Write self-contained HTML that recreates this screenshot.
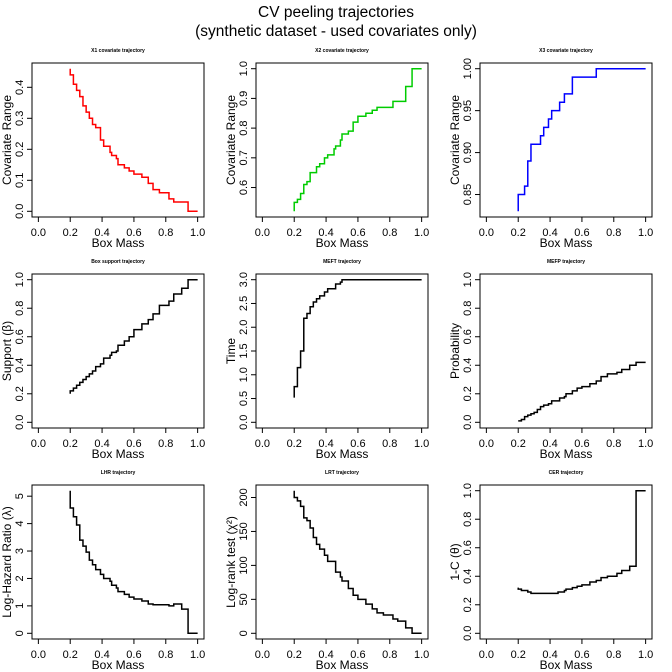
<!DOCTYPE html>
<html><head><meta charset="utf-8"><style>
html,body{margin:0;padding:0;background:#fff;}
svg{display:block;font-family:"Liberation Sans",Arial,sans-serif;}
</style></head><body>
<svg id="chart" width="672" height="672" viewBox="0 0 672 672">
<text x="336" y="17" font-size="15.5" text-anchor="middle">CV peeling trajectories</text>
<text x="336" y="36" font-size="15.5" text-anchor="middle">(synthetic dataset - used covariates only)</text>
</svg>
<script>
const boxMass = [0.2,0.2,0.22,0.24,0.26,0.28,0.30,0.32,0.34,0.36,0.39,0.41,0.45,0.46,0.49,0.50,0.54,0.57,0.60,0.65,0.69,0.72,0.76,0.82,0.85,0.90,0.94,1.00];
const x1Range = [0.46,0.44,0.41,0.39,0.37,0.34,0.32,0.30,0.28,0.27,0.23,0.21,0.19,0.18,0.17,0.15,0.14,0.13,0.12,0.11,0.09,0.07,0.06,0.04,0.03,0.03,0.00,0.00];
const x2Range = [0.52,0.55,0.56,0.58,0.61,0.62,0.65,0.65,0.67,0.68,0.70,0.71,0.73,0.74,0.76,0.78,0.79,0.82,0.84,0.85,0.86,0.87,0.87,0.89,0.89,0.94,1.00,1.00];
const x3Range = [0.83,0.85,0.85,0.86,0.89,0.91,0.91,0.91,0.92,0.93,0.94,0.95,0.95,0.96,0.97,0.97,0.99,0.99,0.99,0.99,1.00,1.00,1.00,1.00,1.00,1.00,1.00,1.00];
const supportVals = [0.20,0.22,0.24,0.26,0.28,0.30,0.32,0.34,0.36,0.39,0.41,0.45,0.47,0.49,0.50,0.54,0.57,0.60,0.65,0.69,0.72,0.76,0.82,0.85,0.90,0.94,1.00,1.00];
const meftVals = [0.52,0.75,1.15,1.50,2.19,2.29,2.43,2.53,2.60,2.66,2.74,2.81,2.81,2.91,2.95,3.00,3.00,3.00,3.00,3.00,3.00,3.00,3.00,3.00,3.00,3.00,3.00,3.00];
const mefpVals = [0.01,0.01,0.02,0.04,0.05,0.06,0.07,0.09,0.11,0.12,0.13,0.15,0.15,0.17,0.18,0.20,0.22,0.24,0.25,0.27,0.29,0.32,0.34,0.35,0.37,0.40,0.42,0.42];
const lhrVals = [5.2,4.57,4.25,3.95,3.40,3.18,2.96,2.67,2.50,2.32,2.15,2.00,1.90,1.75,1.65,1.52,1.42,1.32,1.25,1.18,1.07,1.04,1.04,1.00,1.07,0.88,0.00,0.00];
const lrtVals = [210,200,195,187,170,166,155,141,131,124,115,106,106,90,83,77,66,56,50,43,36,30,27,21,18,8,0,0];
const cerVals = [0.32,0.31,0.30,0.30,0.29,0.28,0.28,0.28,0.28,0.28,0.28,0.28,0.29,0.29,0.30,0.31,0.32,0.33,0.34,0.36,0.37,0.39,0.40,0.42,0.44,0.47,1.00,1.00];
const xTicks = [0,0.2,0.4,0.6,0.8,1.0];
const xTickLabels = ["0.0","0.2","0.4","0.6","0.8","1.0"];

const panels = [
 {name:"x1", title:"X1 covariate trajectory", ylab:"Covariate Range", y:x1Range, ymin:0, ymax:0.46, ticks:[0,0.1,0.2,0.3,0.4], tl:["0.0","0.1","0.2","0.3","0.4"], color:"#ff0000"},
 {name:"x2", title:"X2 covariate trajectory", ylab:"Covariate Range", y:x2Range, ymin:0.52, ymax:1.0, ticks:[0.6,0.7,0.8,0.9,1.0], tl:["0.6","0.7","0.8","0.9","1.0"], color:"#00cc00"},
 {name:"x3", title:"X3 covariate trajectory", ylab:"Covariate Range", y:x3Range, ymin:0.83, ymax:1.0, ticks:[0.85,0.9,0.95,1.0], tl:["0.85","0.90","0.95","1.00"], color:"#0000ff"},
 {name:"support", title:"Box support trajectory", ylab:"Support (β)", y:supportVals, ymin:0, ymax:1, ticks:[0,0.2,0.4,0.6,0.8,1.0], tl:["0.0","0.2","0.4","0.6","0.8","1.0"], color:"#000"},
 {name:"meft", title:"MEFT trajectory", ylab:"Time", y:meftVals, ymin:0, ymax:3, ticks:[0,0.5,1,1.5,2,2.5,3], tl:["0.0","0.5","1.0","1.5","2.0","2.5","3.0"], color:"#000"},
 {name:"mefp", title:"MEFP trajectory", ylab:"Probability", y:mefpVals, ymin:0, ymax:1, ticks:[0,0.2,0.4,0.6,0.8,1.0], tl:["0.0","0.2","0.4","0.6","0.8","1.0"], color:"#000"},
 {name:"lhr", title:"LHR trajectory", ylab:"Log-Hazard Ratio (λ)", y:lhrVals, ymin:0, ymax:5.2, ticks:[0,1,2,3,4,5], tl:["0","1","2","3","4","5"], color:"#000"},
 {name:"lrt", title:"LRT trajectory", ylab:"Log-rank test (χ²)", y:lrtVals, ymin:0, ymax:210, ticks:[0,50,100,150,200], tl:["0","50","100","150","200"], color:"#000"},
 {name:"cer", title:"CER trajectory", ylab:"1-C (θ)", y:cerVals, ymin:0, ymax:1, ticks:[0,0.2,0.4,0.6,0.8,1.0], tl:["0.0","0.2","0.4","0.6","0.8","1.0"], color:"#000"}
];

const svg = document.getElementById('chart');
const NS = "http://www.w3.org/2000/svg";
function mk(tag, attrs, parent){const e=document.createElementNS(NS,tag);for(const k in attrs)e.setAttribute(k,attrs[k]);parent.appendChild(e);return e;}

panels.forEach((p,i)=>{
  const ox = (i%3)*224, oy = Math.floor(i/3)*211;
  const L=ox+32, R=ox+204, T=oy+63, B=oy+217;
  const xs = v => L + (v+0.04)/1.08*(R-L);
  const yr = p.ymax-p.ymin;
  const ys = v => B - ((v-p.ymin)+0.04*yr)/(1.08*yr)*(B-T);
  const g = mk('g',{},svg);
  
  
  const t = mk('text',{x:(L+R)/2,y:oy+52,'font-size':5,'font-weight':'bold','text-anchor':'middle'},g);
  t.textContent=p.title;
  
  
  const box = mk('rect',{x:L,y:T,width:R-L,height:B-T,fill:'none',stroke:'#000','stroke-width':1},g);
  
  
  // x axis
  const xa = mk('g',{},g);
  
  
  mk('line',{x1:xs(xTicks[0]),x2:xs(xTicks[xTicks.length-1]),y1:B,y2:B,stroke:'#000'},xa);
  xTicks.forEach((v,k)=>{
    mk('line',{x1:xs(v),x2:xs(v),y1:B,y2:B+5,stroke:'#000'},xa);
    const tx=mk('text',{x:xs(v),y:B+19,'font-size':11,'text-anchor':'middle'},xa);
    tx.textContent=xTickLabels[k];
    
    
  });
  const xl=mk('text',{x:(L+R)/2,y:B+30,'font-size':12,'text-anchor':'middle'},g);
  xl.textContent='Box Mass';
  
  
  // y axis
  const ya = mk('g',{},g);
  
  
  mk('line',{x1:L,x2:L,y1:ys(p.ticks[0]),y2:ys(p.ticks[p.ticks.length-1]),stroke:'#000'},ya);
  p.ticks.forEach((v,k)=>{
    mk('line',{x1:L-5,x2:L,y1:ys(v),y2:ys(v),stroke:'#000'},ya);
    const ty=mk('text',{x:0,y:0,'font-size':11,'text-anchor':'middle',transform:`translate(${ox+23},${ys(v)}) rotate(-90)`},ya);
    ty.textContent=p.tl[k];
    
    
  });
  const yl=mk('text',{x:0,y:0,'font-size':12,'text-anchor':'middle',transform:`translate(${ox+11},${(T+B)/2}) rotate(-90)`},g);
  yl.textContent=p.ylab;
  
  
  // step line
  let d = `M${xs(boxMass[0])},${ys(p.y[0])}`;
  for(let k=1;k<boxMass.length;k++){ d += ` H${xs(boxMass[k])} V${ys(p.y[k])}`; }
  const path = mk('path',{d:d,fill:'none',stroke:p.color,'stroke-width':1.5},g);
  
  
});
</script>
</body></html>
